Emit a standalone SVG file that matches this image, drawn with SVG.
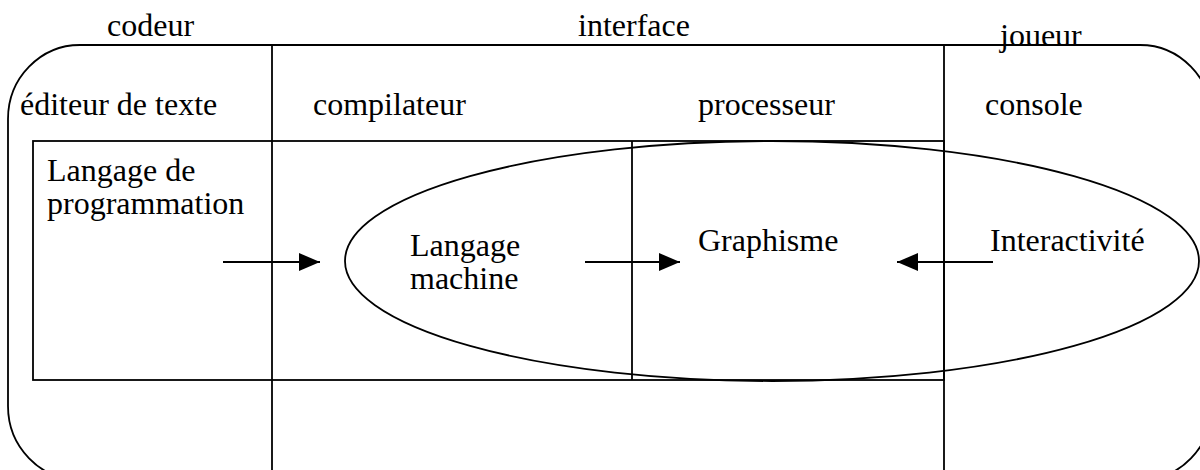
<svg xmlns="http://www.w3.org/2000/svg" width="1200" height="470" viewBox="0 0 1200 470">
<defs>
<style>
.l{fill:none;stroke:#000;stroke-width:1.8}
.t{font-family:"Liberation Serif","Times New Roman","DejaVu Serif",serif;font-size:32px;fill:#000}
</style>
<marker id="ah" markerWidth="21" markerHeight="18" refX="21" refY="9" orient="auto" markerUnits="userSpaceOnUse"><path d="M0,0 L21,9 L0,18 Z" fill="#000"/></marker>
</defs>
<rect id="frame" class="l" x="8" y="45" width="1204" height="435" rx="72" ry="74"/>
<g id="zones">
<line class="l" x1="272" y1="45" x2="272" y2="470"/>
<line class="l" x1="944" y1="45" x2="944" y2="470"/>
<rect class="l" x="33" y="141" width="911" height="239"/>
<line class="l" x1="632" y1="141" x2="632" y2="380"/>
<ellipse class="l" cx="772" cy="261" rx="427" ry="120"/>
</g>
<g id="labels">
<text class="t" x="107" y="36">codeur</text>
<text class="t" x="578" y="36">interface</text>
<text class="t" x="1000" y="46">joueur</text>
<text class="t" x="20" y="115">éditeur de texte</text>
<text class="t" x="313" y="115">compilateur</text>
<text class="t" x="698" y="115">processeur</text>
<text class="t" x="985" y="115">console</text>
</g>
<g id="n-prog"><text class="t" x="47" y="181">Langage de</text><text class="t" x="47" y="214">programmation</text></g>
<g id="n-machine"><text class="t" x="410" y="256">Langage</text><text class="t" x="410" y="289">machine</text></g>
<g id="n-graph"><text class="t" x="698" y="251">Graphisme</text></g>
<g id="n-inter"><text class="t" x="990" y="251">Interactivité</text></g>
<g id="connectors">
<line class="l" x1="223" y1="262" x2="320" y2="262" marker-end="url(#ah)"/>
<line class="l" x1="585" y1="262" x2="680" y2="262" marker-end="url(#ah)"/>
<line class="l" x1="993" y1="262" x2="897" y2="262" marker-end="url(#ah)"/>
</g>
</svg>
